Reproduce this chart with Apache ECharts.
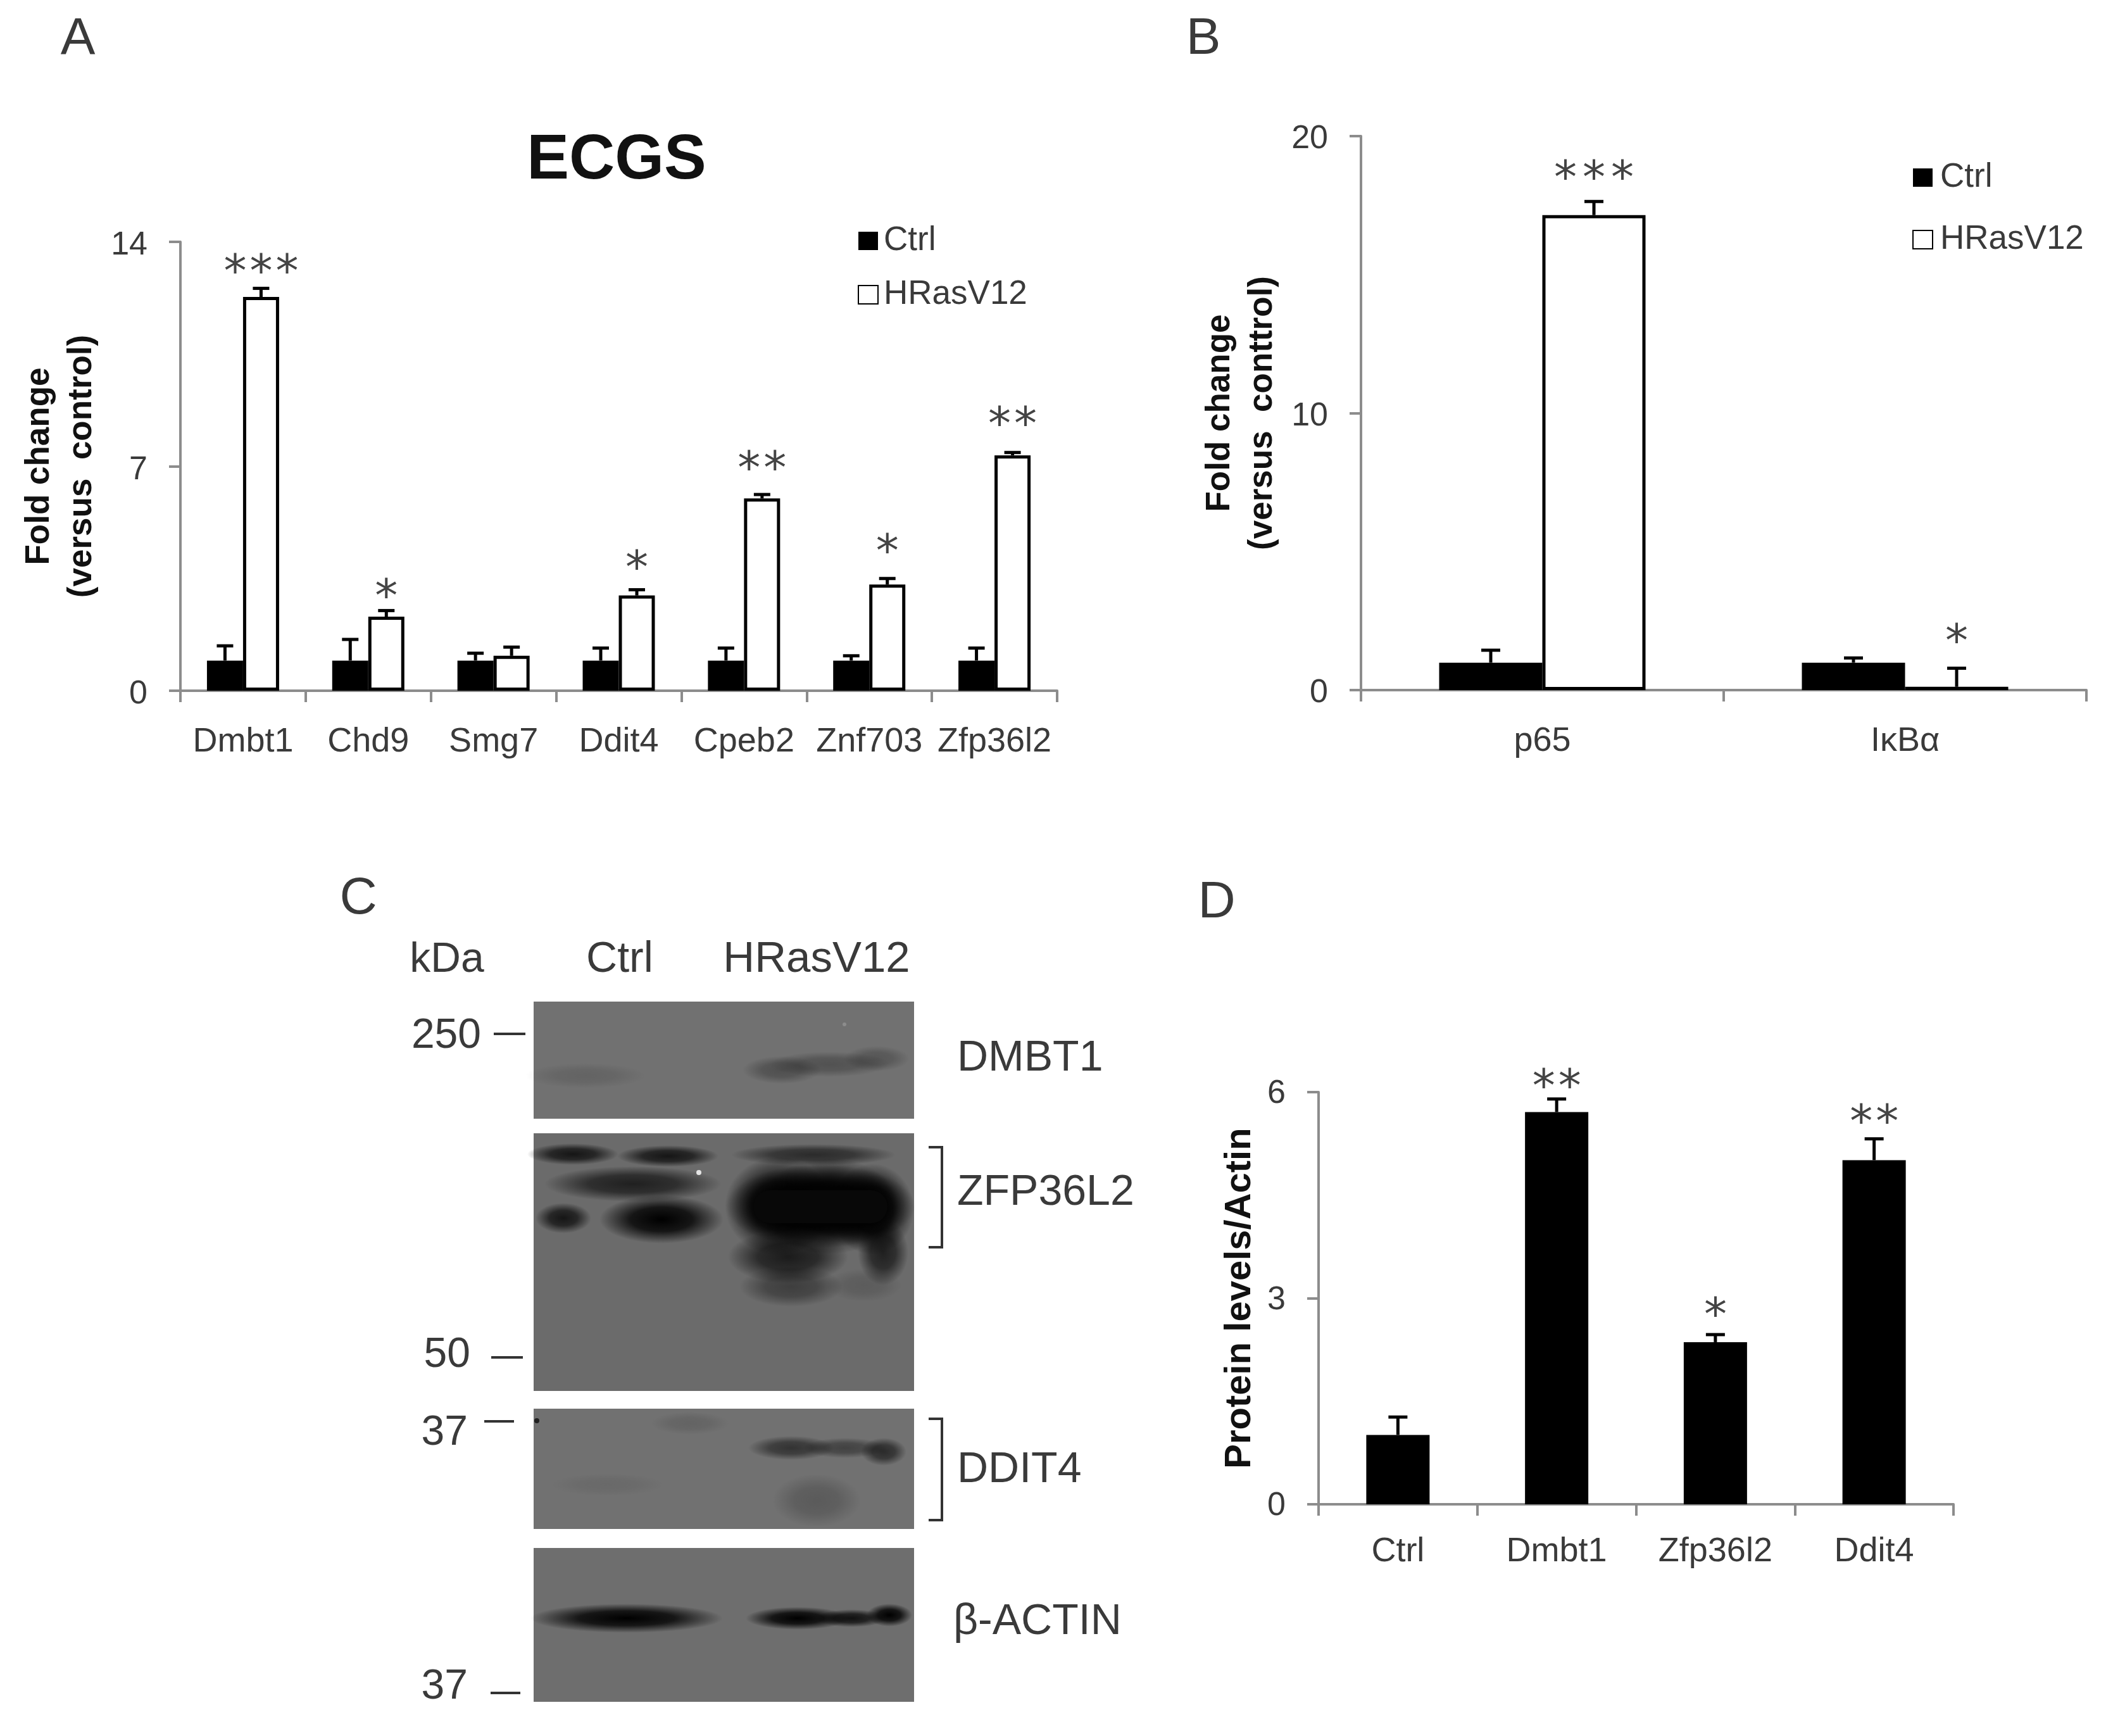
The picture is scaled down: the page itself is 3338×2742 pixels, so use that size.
<!DOCTYPE html>
<html>
<head>
<meta charset="utf-8">
<style>
	html,body{margin:0;padding:0;background:#fff;}
	#main{width:3338px;height:2742px;}
</style>
<script src="https://cdn.jsdelivr.net/npm/echarts@6/dist/echarts.min.js"></script>
</head>
<body>
<div id="main"></div>
<script>
	//panel A
	var a_genes = ['Dmbt1','Chd9','Smg7','Ddit4','Cpeb2','Znf703','Zfp36l2'];
	var a_ctrl = [0.94,0.94,0.94,0.94,0.94,0.94,0.94];
	var a_ctrl_err = [1.4,1.6,1.17,1.33,1.33,1.09,1.33];
	var a_ras = [12.28,2.31,1.09,2.97,6.0,3.31,7.34];
	var a_ras_err = [12.55,2.5,1.36,3.15,6.12,3.5,7.43];
	var a_stars = [3,1,0,1,2,1,2];
	var a_star_level = [13.35,3.22,0,4.11,7.21,4.62,8.59];
	//panel B
	var b_genes = ['p65','IκBα'];
	var b_ctrl = [0.99,0.99];
	var b_ctrl_err = [1.44,1.16];
	var b_ras = [17.15,0.12];
	var b_ras_err = [17.64,0.79];
	var b_stars = [3,1];
	var b_star_level = [18.81,2.08];
	//panel D
	var d_genes = ['Ctrl','Dmbt1','Zfp36l2','Ddit4'];
	var d_protein = [1.01,5.71,2.36,5.01];
	var d_protein_err = [1.27,5.9,2.47,5.32];
	var d_stars = [0,2,1,2];
	var d_star_level = [0,6.21,2.88,5.69];

	var FONT = '"Liberation Sans", Arial, sans-serif';
	var AXIS_GREY = '#8c8c8c';
	var TEXT_GREY = '#3a3a3a';
	var STAR_LIFT = 18;		//星号字形在文字框中偏上

	var chart = echarts.init(document.getElementById('main'));

	//误差线和星号
	function errSeries(name,grid,values,errs,stars,levels,side,bw,cap,star_step){
		return {
			type: 'custom',
			name: name,
			xAxisIndex: grid,
			yAxisIndex: grid,
			z: 5,
			silent: true,
			clip: false,
			data: values.map(function(v,i){ return [i,v,errs[i],stars ? stars[i] : 0,levels ? levels[i] : 0]; }),
			renderItem: function(params,api){
				var base = api.coord([api.value(0),api.value(1)]);
				var top = api.coord([api.value(0),api.value(2)]);
				var x = base[0] + side * bw / 2;
				var line = {stroke:'#000',lineWidth:5};
				var children = [
					{type:'line',shape:{x1:x,y1:base[1],x2:x,y2:top[1]},style:line},
					{type:'line',shape:{x1:x - cap / 2,y1:top[1],x2:x + cap / 2,y2:top[1]},style:line}
				];
				var n = api.value(3);
				var star_y = api.coord([api.value(0),api.value(4)])[1] + STAR_LIFT;
				for(var k = 0; k < n; k++){
					children.push({
						type:'text',
						x: x + (k - (n - 1) / 2) * star_step,
						y: star_y,
						style:{text:'*',font:'72px "DejaVu Sans"',fill:'#444',align:'center',verticalAlign:'middle'}
					});
				}
				return {type:'group',children:children};
			}
		};
	}

	function xAxis(grid,data,margin){
		return {
			type:'category',
			gridIndex:grid,
			data:data,
			axisLine:{lineStyle:{color:AXIS_GREY,width:4}},
			axisTick:{show:true,length:18,lineStyle:{color:AXIS_GREY,width:4}},
			axisLabel:{fontSize:54,fontFamily:FONT,color:TEXT_GREY,margin:margin,interval:0,hideOverlap:false}
		};
	}

	function yAxis(grid,max,interval,name,name_size,name_gap,label_pad){
		return {
			type:'value',
			gridIndex:grid,
			min:0,
			max:max,
			interval:interval,
			splitLine:{show:false},
			name:name,
			nameLocation:'middle',
			nameRotate:90,
			nameGap:name_gap,
			nameTextStyle:{fontSize:name_size,fontWeight:'bold',fontFamily:FONT,color:'#111',lineHeight:67},
			axisLine:{show:true,lineStyle:{color:AXIS_GREY,width:4}},
			axisTick:{show:true,length:18,lineStyle:{color:AXIS_GREY,width:4}},
			axisLabel:{
				margin:52,
				formatter:'{tick|{value}}',
				rich:{tick:{fontSize:52,fontFamily:FONT,color:TEXT_GREY,padding:[label_pad,0,0,0]}}
			}
		};
	}

	function barSeries(name,grid,data,fill,bw){
		return {
			type:'bar',
			name:name,
			xAxisIndex:grid,
			yAxisIndex:grid,
			data:data,
			barWidth:bw,
			barGap:'0%',
			silent:true,
			itemStyle:{color:fill,borderColor:'#000',borderWidth:fill == '#000' ? 0 : 5}
		};
	}

	function legend(left,top,gap,text_pad){
		return {
			left:left,
			top:top,
			padding:0,
			orient:'vertical',
			data:[{name:'Ctrl',icon:'rect'},{name:'HRasV12',icon:'rect'}],
			itemWidth:31,
			itemHeight:29,
			itemGap:gap,
			selectedMode:false,
			textStyle:{fontSize:53,fontFamily:FONT,color:TEXT_GREY,padding:[0,0,0,text_pad]}
		};
	}

	//文字和印迹图
	function label(text,x,y,size,align,weight){
		return {
			type:'text',
			x:x,
			y:y + 6,
			silent:true,
			style:{text:text,font:(weight || 'normal') + ' ' + size + 'px "Liberation Sans"',fill:TEXT_GREY,align:align || 'center',verticalAlign:'middle'}
		};
	}
	function dash(x1,x2,y){
		return {type:'line',silent:true,shape:{x1:x1,y1:y,x2:x2,y2:y},style:{stroke:'#333',lineWidth:4}};
	}
	function bracket(y1,y2){
		return {type:'polyline',silent:true,shape:{points:[[1467,y1],[1488,y1],[1488,y2],[1467,y2]]},style:{fill:'none',stroke:'#333',lineWidth:4}};
	}
	function panel(y,h,fill){
		return {type:'rect',silent:true,shape:{x:843,y:y,width:601,height:h},style:{fill:fill}};
	}
	function band(cx,cy,rx,ry,alpha){
		return {
			type:'circle',
			silent:true,
			x:cx,
			y:cy,
			scaleX:rx / 100,
			scaleY:ry / 100,
			shape:{r:100},
			style:{fill:{type:'radial',x:0.5,y:0.5,r:0.5,colorStops:[
				{offset:0,color:'rgba(0,0,0,' + alpha + ')'},
				{offset:0.5,color:'rgba(0,0,0,' + alpha * 0.8 + ')'},
				{offset:1,color:'rgba(0,0,0,0)'}
			]}}
		};
	}
	function blob(x,y,w,h,blur){
		return {type:'rect',silent:true,shape:{x:x,y:y,width:w,height:h,r:30},style:{fill:'#080808',shadowBlur:blur,shadowColor:'#000'}};
	}
	function speck(x,y,r,fill){
		return {type:'circle',silent:true,shape:{cx:x,cy:y,r:r},style:{fill:fill}};
	}

	var blot = [
		panel(1582,185,'#717171'),
		band(925,1699,95,20,0.12),
		band(1235,1690,62,22,0.3),
		band(1310,1681,95,20,0.28),
		band(1385,1672,52,20,0.24),
		speck(1334,1618,3,'#8c8c8c'),

		panel(1790,407,'#6b6b6b'),
		band(905,1823,72,17,0.8),
		band(1055,1826,80,17,0.8),
		band(1285,1824,130,17,0.6),
		band(1000,1870,140,28,0.7),
		band(890,1924,44,24,0.8),
		band(1045,1926,98,38,1),
		band(1245,1985,95,42,0.75),
		band(1395,1978,40,52,0.7),
		band(1230,1905,85,78,1),
		band(1310,1905,110,76,1),
		band(1378,1910,66,72,1),
		band(1296,1905,150,66,1),
		blob(1190,1880,212,52,30),
		band(1250,2032,82,32,0.42),
		band(1365,2030,60,26,0.14),
		speck(1104,1852,4,'#e4e4e4'),

		panel(2225,190,'#717171'),
		band(1090,2248,62,18,0.12),
		band(1250,2287,68,19,0.55),
		band(1335,2287,66,16,0.42),
		band(1396,2293,36,22,0.62),
		band(1290,2370,70,42,0.2),
		band(960,2345,90,18,0.07),
		speck(848,2244,4,'#222'),

		panel(2445,243,'#6e6e6e'),
		band(990,2556,152,23,1),
		band(1260,2556,82,18,1),
		band(1345,2556,56,14,0.85),
		band(1405,2551,36,18,1)
	];

	var texts = [
		label('A',123,56,82),
		label('B',1901,56,82),
		label('C',566,1414,82),
		label('D',1922,1420,82),
		label('kDa',706,1511,66),
		label('Ctrl',979,1510,68),
		label('HRasV12',1290,1510,69),
		label('250',760,1631,66,'right'),
		dash(780,830,1633),
		label('50',743,2135,66,'right'),
		dash(776,826,2144),
		label('37',739,2258,66,'right'),
		dash(765,812,2245),
		label('37',739,2659,66,'right'),
		dash(775,822,2674),
		label('DMBT1',1512,1666,68,'left'),
		label('ZFP36L2',1512,1878,68,'left'),
		label('DDIT4',1512,2316,68,'left'),
		label('β-ACTIN',1506,2556,68,'left'),
		bracket(1812,1970),
		bracket(2241,2401)
	];

	chart.setOption({
		backgroundColor:'#fff',
		animation:false,
		title:{text:'ECGS',left:969,top:199,textAlign:'center',textStyle:{fontSize:100,fontWeight:'bold',fontFamily:FONT,color:'#111'}},
		legend:[legend(1355,354,32,4),legend(3021,254,45,7)],
		grid:[
			{left:285,top:382,width:1385,height:709},
			{left:2150,top:215,width:1146,height:875},
			{left:2083,top:1725,width:1003,height:651}
		],
		xAxis:[xAxis(0,a_genes,54),xAxis(1,b_genes,54),xAxis(2,d_genes,48)],
		yAxis:[
			yAxis(0,14,7,'Fold change\n(versus  control)',53,122,12),
			yAxis(1,20,10,'Fold change\n(versus  conttrol)',53,122,10),
			yAxis(2,6,3,'Protein levels/Actin',58,91,6)
		],
		series:[
			barSeries('Ctrl',0,a_ctrl,'#000',57),
			barSeries('HRasV12',0,a_ras,'#fff',57),
			errSeries('a_ctrl_err',0,a_ctrl,a_ctrl_err,null,null,-1,57,26,0),
			errSeries('a_ras_err',0,a_ras,a_ras_err,a_stars,a_star_level,1,57,26,41),
			barSeries('Ctrl',1,b_ctrl,'#000',163),
			barSeries('HRasV12',1,b_ras,'#fff',163),
			errSeries('b_ctrl_err',1,b_ctrl,b_ctrl_err,null,null,-1,163,30,0),
			errSeries('b_ras_err',1,b_ras,b_ras_err,b_stars,b_star_level,1,163,30,45),
			barSeries('Protein',2,d_protein,'#000',100),
			errSeries('d_err',2,d_protein,d_protein_err,d_stars,d_star_level,0,100,30,41)
		],
		graphic:{elements:blot.concat(texts)}
	});
</script>
</body>
</html>
